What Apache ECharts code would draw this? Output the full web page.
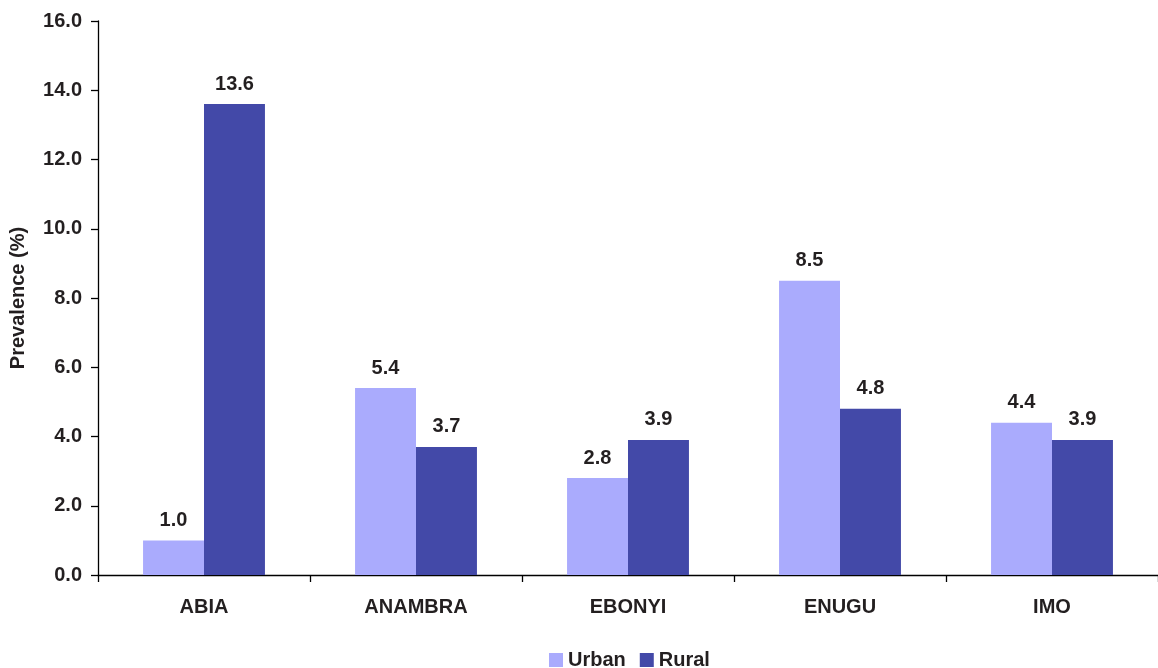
<!DOCTYPE html>
<html>
<head>
<meta charset="utf-8">
<script src="https://cdn.jsdelivr.net/npm/echarts@6/dist/echarts.min.js"></script>
<style>
  html, body { margin: 0; padding: 0; background: #ffffff; }
  #chart { width: 1158px; height: 668px; }
</style>
</head>
<body>
<div id="chart"></div>
<script>
// Prevalence by state, urban vs rural
const states = ['ABIA', 'ANAMBRA', 'EBONYI', 'ENUGU', 'IMO'];
const urbanValues = [1.0, 5.4, 2.8, 8.5, 4.4];
const ruralValues = [13.6, 3.7, 3.9, 4.8, 3.9];
const seriesNames = ['Urban', 'Rural'];

const TEXT = '#231F20';
const FONT = 'Liberation Sans, Arial, sans-serif';
const FS = 20;

const chart = echarts.init(document.getElementById('chart'), null, { renderer: 'canvas' });

const barLabel = {
  show: true,
  position: 'top',
  distance: 10,
  color: TEXT,
  fontFamily: FONT,
  fontWeight: 'bold',
  fontSize: FS,
  formatter: p => p.value.toFixed(1)
};

chart.setOption({
  animation: false,
  backgroundColor: '#ffffff',
  grid: { left: 96, right: 0, top: 21, bottom: 93, containLabel: false },
  legend: {
    data: seriesNames,
    left: 549,
    top: 650,
    padding: 0,
    itemWidth: 14,
    itemHeight: 14,
    itemGap: 14,
    icon: 'rect',
    textStyle: { color: TEXT, fontFamily: FONT, fontWeight: 'bold', fontSize: FS }
  },
  xAxis: {
    type: 'category',
    data: states,
    axisLine: { lineStyle: { color: '#000000', width: 1.3 } },
    axisTick: { show: true, length: 7, lineStyle: { color: '#000000', width: 1.3 } },
    axisLabel: { color: TEXT, fontFamily: FONT, fontWeight: 'bold', fontSize: FS, margin: 22 },
    splitLine: { show: false }
  },
  yAxis: {
    type: 'value',
    min: 0,
    max: 16,
    interval: 2,
    name: 'Prevalence (%)',
    nameLocation: 'middle',
    nameGap: 70,
    nameTextStyle: { color: TEXT, fontFamily: FONT, fontWeight: 'bold', fontSize: FS },
    axisLine: { show: true, lineStyle: { color: '#000000', width: 1.3 } },
    axisTick: { show: true, length: 7, lineStyle: { color: '#000000', width: 1.3 } },
    axisLabel: { color: TEXT, fontFamily: FONT, fontWeight: 'bold', fontSize: FS, margin: 16,
                 formatter: v => v.toFixed(1) },
    splitLine: { show: false }
  },
  series: [
    {
      name: seriesNames[0],
      type: 'bar',
      data: urbanValues,
      barGap: '0%',
      barCategoryGap: '42.5%',
      itemStyle: { color: '#AAABFD' },
      label: barLabel
    },
    {
      name: seriesNames[1],
      type: 'bar',
      data: ruralValues,
      barGap: '0%',
      barCategoryGap: '42.5%',
      itemStyle: { color: '#4349A8' },
      label: barLabel
    }
  ]
});
</script>
</body>
</html>
